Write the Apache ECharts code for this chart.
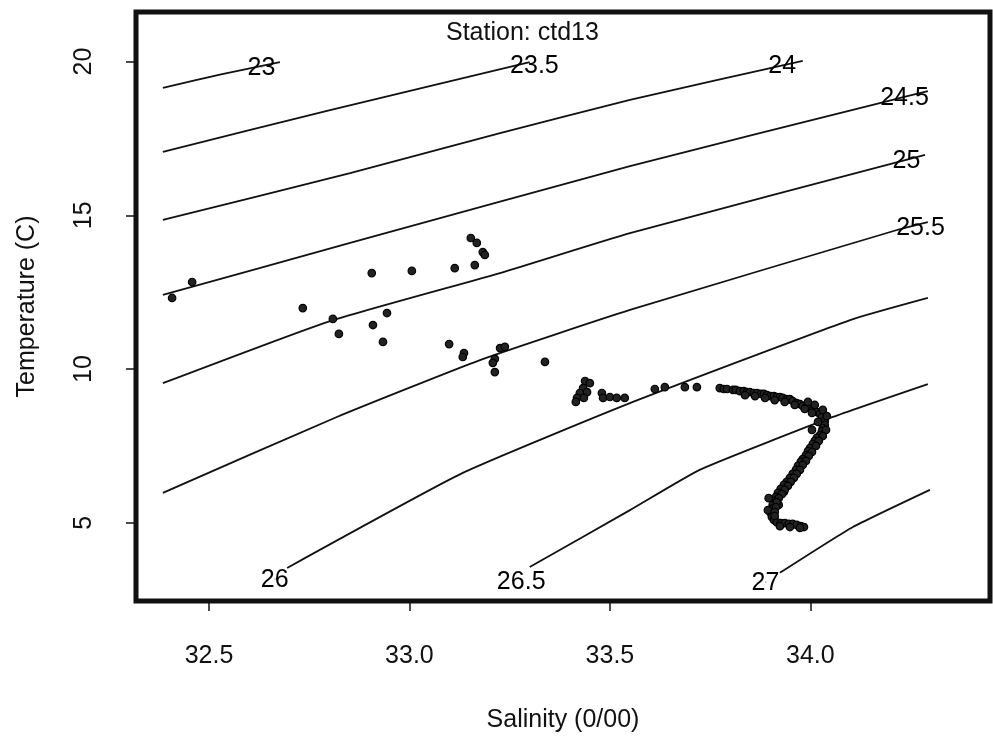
<!DOCTYPE html>
<html>
<head>
<meta charset="utf-8">
<script src="https://cdn.jsdelivr.net/npm/echarts@6/dist/echarts.min.js"></script>
<style>
  html, body { margin: 0; padding: 0; background: #fff; }
  #chart { width: 993px; height: 740px; }
</style>
</head>
<body>
<div id="chart"></div>
<script>
// ---- Axis tick values ----
const salinityTicks = [32.5, 33.0, 33.5, 34.0];
const temperatureTicks = [5, 10, 15, 20];

// ---- Isopycnal (sigma-t) contour lines, [salinity, temperature] ----
const contourLevels = ['23', '23.5', '24', '24.5', '25', '25.5', '26', '26.5', '27'];
const c23   = [[32.385, 19.14], [32.530, 19.58], [32.677, 19.98]];
const c23_5 = [[32.385, 17.06], [32.802, 18.42], [33.300, 19.98]];
const c24   = [[32.385, 14.85], [32.852, 16.37], [33.226, 17.67], [33.550, 18.75], [33.981, 20.02]];
const c24_5 = [[32.385, 12.41], [32.852, 14.10], [33.550, 16.60], [34.173, 18.65], [34.293, 19.04]];
const c25   = [[32.385, 9.54], [32.802, 11.56], [33.226, 13.12], [33.550, 14.42], [34.286, 16.96]];
const c25_5 = [[32.385, 5.97], [32.819, 8.44], [33.176, 10.29], [33.550, 11.92], [34.216, 14.52], [34.293, 14.78]];
const c26   = [[32.695, 3.53], [33.133, 6.62], [33.550, 8.89], [34.099, 11.59], [34.293, 12.31]];
const c26_5 = [[33.300, 3.56], [33.550, 5.41], [33.724, 6.72], [34.056, 8.44], [34.293, 9.51]];
const c27   = [[33.924, 3.37], [34.106, 4.86], [34.298, 6.07]];
const contourLines = [c23, c23_5, c24, c24_5, c25, c25_5, c26, c26_5, c27];

// ---- Contour label anchor points [salinity, temperature] ----
const contourLabelPos = [
  [32.632, 19.82], [33.313, 19.89], [33.931, 19.89], [34.236, 18.85], [34.241, 16.80],
  [34.276, 14.62], [32.665, 3.17], [33.280, 3.11], [33.889, 3.07]
];

// ---- Station ctd13 observations: salinity and temperature ----
const salinity = [
  32.408, 32.458, 32.734, 32.809, 32.824, 32.906, 32.909, 32.944, 32.934, 33.006,
  33.113, 33.163, 33.153, 33.168, 33.183, 33.188, 33.099, 33.136, 33.133, 33.213,
  33.208, 33.213, 33.226, 33.238, 33.338,
  33.438, 33.450, 33.433, 33.425, 33.418, 33.415, 33.443, 33.435, 33.480, 33.483,
  33.500, 33.517, 33.537, 33.612, 33.637, 33.687, 33.717,
  33.774, 33.784, 33.792, 33.807, 33.814, 33.824, 33.834, 33.842, 33.849, 33.859,
  33.867, 33.877, 33.884, 33.892, 33.901, 33.909, 33.916, 33.924, 33.931, 33.941,
  33.949, 33.956, 33.966, 33.974, 33.981, 33.989, 33.999, 34.006, 34.016, 34.024,
  34.029, 34.036, 34.036, 34.031, 34.029, 34.024, 34.016, 34.011, 34.006, 33.999,
  33.994, 33.989, 33.981, 33.976, 33.969, 33.964, 33.956, 33.949, 33.941, 33.934,
  33.926, 33.919, 33.914, 33.909, 33.906, 33.904, 33.901, 33.904, 33.909, 33.916,
  33.926, 33.936, 33.946, 33.956, 33.966, 33.976, 33.984,
  33.994, 34.011, 34.031, 34.041, 34.019, 34.004, 33.896, 33.894, 33.921, 33.934,
  34.039, 34.031, 34.021, 34.014, 34.004, 33.996, 33.989, 33.981, 33.974, 33.966,
  33.959, 33.951, 33.944, 33.936, 33.929, 33.921, 33.916, 33.914, 33.911, 33.911,
  33.837, 33.862, 33.887, 33.911, 33.936, 33.961, 33.986, 34.004,
  33.924, 33.949, 33.974
];
const temperature = [
  12.31, 12.83, 11.98, 11.63, 11.14, 13.12, 11.43, 11.82, 10.88, 13.19,
  13.28, 13.38, 14.26, 14.10, 13.80, 13.71, 10.81, 10.52, 10.39, 10.33,
  10.20, 9.90, 10.68, 10.72, 10.23,
  9.61, 9.54, 9.38, 9.22, 9.06, 8.93, 9.25, 9.06, 9.22, 9.06,
  9.09, 9.06, 9.06, 9.35, 9.41, 9.41, 9.41,
  9.38, 9.35, 9.35, 9.32, 9.32, 9.28, 9.28, 9.25, 9.25, 9.22,
  9.22, 9.19, 9.19, 9.15, 9.12, 9.12, 9.09, 9.09, 9.06, 9.02,
  9.02, 8.96, 8.89, 8.86, 8.80, 8.76, 8.73, 8.67, 8.60, 8.54,
  8.44, 8.31, 8.18, 8.08, 7.98, 7.85, 7.76, 7.66, 7.56, 7.43,
  7.33, 7.20, 7.07, 6.98, 6.85, 6.72, 6.59, 6.46, 6.33, 6.23,
  6.10, 5.97, 5.84, 5.71, 5.58, 5.45, 5.32, 5.19, 5.09, 5.02,
  4.99, 4.99, 4.96, 4.96, 4.93, 4.89, 4.86,
  8.93, 8.83, 8.67, 8.47, 8.28, 8.02, 5.80, 5.41, 5.58, 6.00,
  8.02, 7.82, 7.66, 7.50, 7.30, 7.17, 7.01, 6.88, 6.72, 6.59,
  6.46, 6.33, 6.20, 6.07, 5.93, 5.80, 5.67, 5.51, 5.35, 5.22,
  9.15, 9.12, 9.06, 8.99, 8.93, 8.83, 8.70, 8.57,
  4.89, 4.86, 4.83
];

// ---- Build options ----
const FONT = 'Liberation Sans, Arial, Helvetica, sans-serif';
const INK = '#111';

const series = [];
contourLines.forEach((pts, i) => {
  series.push({
    type: 'line',
    name: 'sigma-t ' + contourLevels[i],
    data: pts,
    showSymbol: false,
    smooth: 0.15,
    silent: true,
    lineStyle: { color: INK, width: 1.8 },
    z: 2
  });
});
series.push({
  type: 'scatter',
  name: 'contour labels',
  data: contourLabelPos.map((p, i) => ({ value: p, name: contourLevels[i] })),
  symbolSize: 1,
  itemStyle: { color: INK, opacity: 1 },
  silent: true,
  label: {
    show: true,
    position: [0, 2],
    align: 'center',
    verticalAlign: 'middle',
    formatter: p => p.name,
    fontFamily: FONT,
    fontSize: 25,
    color: '#000',
    opacity: 1,
    textBorderWidth: 0
  },
  z: 3
});
series.push({
  type: 'scatter',
  name: 'ctd13',
  data: salinity.map((s, i) => [s, temperature[i]]),
  symbol: 'circle',
  symbolSize: 7.5,
  itemStyle: { color: '#222', borderColor: '#000', borderWidth: 1.2, opacity: 1 },
  z: 4
});

const option = {
  animation: false,
  backgroundColor: '#fff',
  title: {
    text: 'Station: ctd13',
    left: 446,
    top: 21,
    padding: 0,
    textStyle: { fontFamily: FONT, fontSize: 25, fontWeight: 'normal', color: INK }
  },
  grid: {
    left: 136, right: 3, top: 12, bottom: 139,
    show: true, borderColor: INK, borderWidth: 5, backgroundColor: 'transparent'
  },
  xAxis: {
    type: 'value',
    min: 32.318, max: 34.448,
    name: 'Salinity (0/00)',
    nameLocation: 'middle',
    nameGap: 107,
    nameTextStyle: { fontFamily: FONT, fontSize: 25, color: INK },
    axisLine: { show: false },
    splitLine: { show: false },
    axisTick: { show: true, length: 10, customValues: salinityTicks, lineStyle: { color: INK, width: 1.5 } },
    axisLabel: {
      customValues: salinityTicks,
      margin: 43,
      fontFamily: FONT, fontSize: 25, color: INK,
      formatter: v => v.toFixed(1)
    }
  },
  yAxis: {
    type: 'value',
    min: 2.455, max: 21.61,
    name: 'Temperature (C)',
    nameLocation: 'middle',
    nameGap: 96,
    nameTextStyle: { fontFamily: FONT, fontSize: 25, color: INK },
    axisLine: { show: false },
    splitLine: { show: false },
    axisTick: { show: true, length: 10, customValues: temperatureTicks, lineStyle: { color: INK, width: 1.5 } },
    axisLabel: {
      customValues: temperatureTicks,
      rotate: 90,
      margin: 39,
      fontFamily: FONT, fontSize: 25, color: INK,
      formatter: v => String(v)
    }
  },
  series: series
};

const chart = echarts.init(document.getElementById('chart'), null, { renderer: 'canvas' });
chart.setOption(option);
</script>
</body>
</html>
